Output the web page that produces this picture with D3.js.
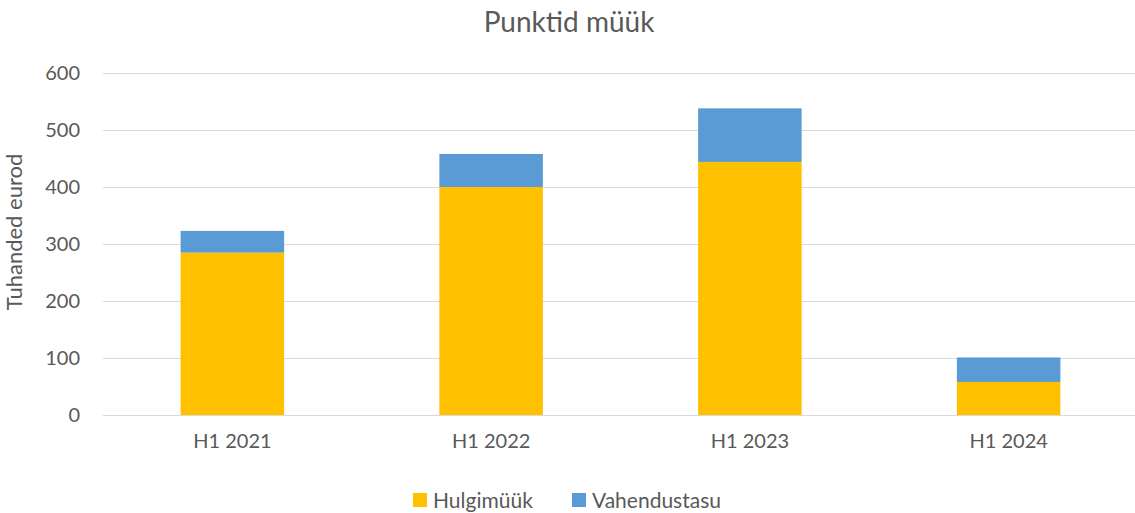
<!DOCTYPE html>
<html>
<head>
<meta charset="utf-8">
<script src="https://cdn.jsdelivr.net/npm/d3@7"></script>
<style>
  body { margin: 0; background: #fff; }
  text { font-family: Lato, "Open Sans", sans-serif; fill: #595959; }
</style>
</head>
<body>
<svg width="1135" height="513"></svg>
<script>
const categories = ["H1 2021", "H1 2022", "H1 2023", "H1 2024"];
const hulgimyyk = [285, 400, 444, 58];
const vahendustasu = [38, 58, 94, 43];
const seriesNames = ["Hulgimüük", "Vahendustasu"];
const seriesColors = ["#FFC000", "#5B9BD5"];
const yTicks = [0, 100, 200, 300, 400, 500, 600];

const margin = { top: 73, right: 0, bottom: 98, left: 103 },
    plotWidth = 1138 - margin.left,
    plotHeight = 513 - margin.top - margin.bottom;

const svg = d3.select("svg");

// title
svg.append("text")
    .attr("x", 569)
    .attr("y", 32)
    .attr("text-anchor", "middle")
    .style("font-size", "28px")
    .text("Punktid müük");

const g = svg.append("g")
    .attr("transform", `translate(${margin.left}, ${margin.top})`);

const x = d3.scaleBand()
    .domain(categories)
    .range([0, plotWidth])
    .paddingInner(0.6)
    .paddingOuter(0.3);

const y = d3.scaleLinear()
    .domain([0, 600])
    .range([plotHeight, 0]);

// gridlines
g.append("g")
    .selectAll("line")
    .data(yTicks)
    .enter().append("line")
    .attr("x1", 0)
    .attr("x2", plotWidth)
    .attr("y1", d => y(d) + 0.5)
    .attr("y2", d => y(d) + 0.5)
    .attr("stroke", "#d9d9d9")
    .attr("stroke-width", 1);

// Y ticks
const yAxis = g.append("g")
    .call(d3.axisLeft(y).tickValues(yTicks).tickSize(0).tickPadding(23))
yAxis.select(".domain").remove();
yAxis.selectAll("text")
    .style("font-size", "20px")
    .attr("fill", "#595959");

// X ticks
const xAxis = g.append("g")
    .attr("transform", `translate(0, ${plotHeight})`)
    .call(d3.axisBottom(x).tickSize(0).tickPadding(19))
xAxis.select(".domain").remove();
xAxis.selectAll("text")
    .style("font-size", "20px")
    .attr("fill", "#595959");

// Y label
g.append("text")
    .attr("x", -159)
    .attr("y", -81)
    .attr("text-anchor", "middle")
    .attr("transform", "rotate(-90)")
    .style("font-size", "22px")
    .text("Tuhanded eurod");

// stacked bars
const table = categories.map((c, i) => ({ cat: c, Hulgimüük: hulgimyyk[i], Vahendustasu: vahendustasu[i] }));
const stacked = d3.stack().keys(seriesNames)(table);

g.selectAll(".series")
    .data(stacked)
    .enter().append("g")
    .attr("class", "series")
    .attr("fill", (d, i) => seriesColors[i])
    .selectAll("rect")
    .data(d => d)
    .enter().append("rect")
    .attr("x", d => x(d.data.cat))
    .attr("y", d => y(d[1]))
    .attr("width", x.bandwidth())
    .attr("height", d => y(d[0]) - y(d[1]));

// legend
const legendX = [413, 572];
const legend = svg.append("g");
const items = legend.selectAll("g")
    .data(seriesNames)
    .enter().append("g")
    .attr("transform", (d, i) => `translate(${legendX[i]}, 493)`);
items.append("rect")
    .attr("width", 14)
    .attr("height", 14)
    .attr("fill", (d, i) => seriesColors[i]);
items.append("text")
    .attr("x", 20)
    .attr("y", 15)
    .style("font-size", "21px")
    .text(d => d);
</script>
</body>
</html>
